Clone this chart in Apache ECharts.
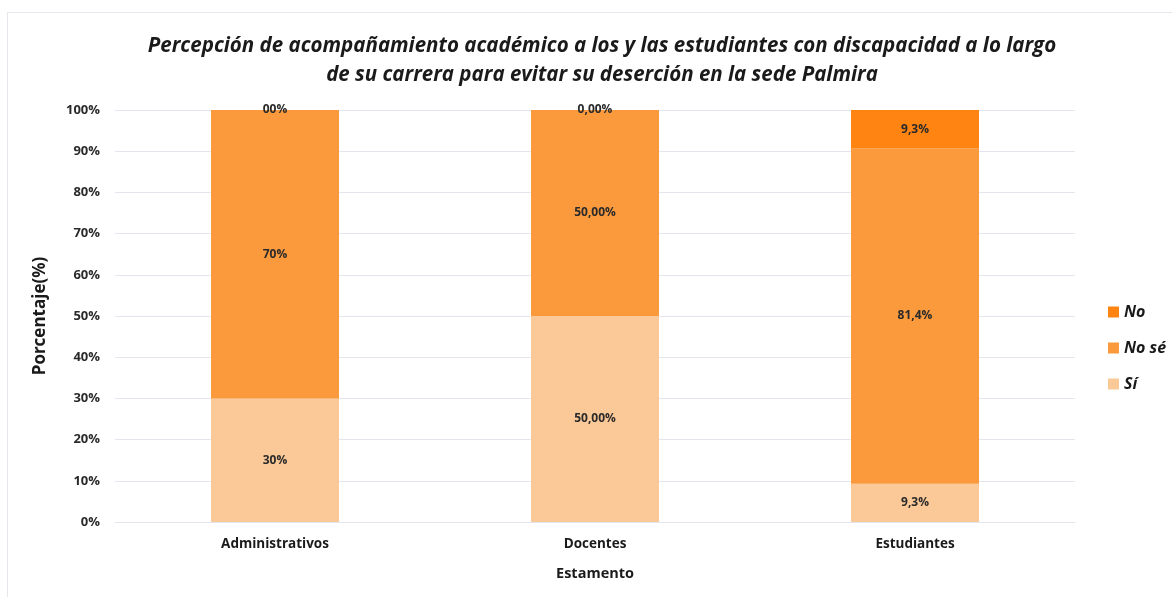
<!DOCTYPE html>
<html>
<head>
<meta charset="utf-8">
<script src="https://cdn.jsdelivr.net/npm/echarts@6/dist/echarts.min.js"></script>
<style>
html,body{margin:0;padding:0;background:#fff;}
#frame{position:absolute;left:7px;top:12px;width:1165px;height:585px;border-top:1px solid #e6e8ee;border-left:1px solid #e6e8ee;}
#chart{position:absolute;left:0;top:0;width:1172px;height:597px;}
</style>
</head>
<body>
<div id="frame"></div>
<div id="chart"></div>
<script>
const categories = ['Administrativos', 'Docentes', 'Estudiantes'];
const siValues = [30, 50, 9.3];
const noSeValues = [70, 50, 81.4];
const noValues = [0, 0, 9.3];
const siLabels = ['30%', '50,00%', '9,3%'];
const noSeLabels = ['70%', '50,00%', '81,4%'];
const noLabels = ['00%', '0,00%', '9,3%'];
const yTicks = ['0%','10%','20%','30%','40%','50%','60%','70%','80%','90%','100%'];

const FONT = 'Open Sans';
const chart = echarts.init(document.getElementById('chart'));

function mkSeries(name, values, labels, color) {
  return {
    name: name,
    type: 'bar',
    stack: 'total',
    barWidth: '40%',
    data: values,
    itemStyle: { color: color },
    label: {
      show: true,
      position: 'inside',
      formatter: p => labels[p.dataIndex],
      fontFamily: FONT,
      fontWeight: 'bold',
      fontSize: 12,
      color: '#2a2a2a'
    },
    emphasis: { disabled: true }
  };
}

chart.setOption({
  animation: false,
  title: {
    text: 'Percepción de acompañamiento académico a los y las estudiantes con discapacidad a lo largo\nde su carrera para evitar su deserción en la sede Palmira',
    left: 597,
    top: 27,
    textAlign: 'center',
    textStyle: {
      fontFamily: FONT,
      fontWeight: 'bold',
      fontStyle: 'italic',
      fontSize: 20.5,
      lineHeight: 29,
      color: '#1a1a1a'
    }
  },
  legend: {
    orient: 'vertical',
    left: 1103,
    top: 299,
    itemWidth: 11,
    itemHeight: 11,
    itemGap: 20,
    icon: 'rect',
    data: ['No', 'No sé', 'Sí'],
    textStyle: {
      fontFamily: FONT,
      fontWeight: 'bold',
      fontStyle: 'italic',
      fontSize: 16,
      color: '#1a1a1a'
    }
  },
  grid: { left: 115, right: 97, top: 110, bottom: 75 },
  xAxis: {
    type: 'category',
    data: categories,
    name: 'Estamento',
    nameLocation: 'middle',
    nameGap: 44,
    nameTextStyle: { fontFamily: FONT, fontWeight: 'bold', fontSize: 14.5, color: '#1a1a1a' },
    axisLine: { lineStyle: { color: '#e3e6ee', width: 1 } },
    axisTick: { show: false },
    axisLabel: { fontFamily: FONT, fontWeight: 'bold', fontSize: 13.5, color: '#1a1a1a', margin: 15 }
  },
  yAxis: {
    type: 'value',
    min: 0,
    max: 100,
    interval: 10,
    name: 'Porcentaje(%)',
    nameLocation: 'middle',
    nameGap: 66,
    nameTextStyle: { fontFamily: FONT, fontWeight: 'bold', fontSize: 17, color: '#1a1a1a' },
    axisLine: { show: false },
    axisTick: { show: false },
    splitLine: { lineStyle: { color: '#e3e6ee', width: 1 } },
    axisLabel: {
      fontFamily: FONT, fontWeight: 'bold', fontSize: 13, color: '#2a2a2a', margin: 15,
      formatter: (v) => yTicks[Math.round(v / 10)]
    }
  },
  series: [
    mkSeries('Sí', siValues, siLabels, '#fbc897'),
    mkSeries('No sé', noSeValues, noSeLabels, '#fb9a3d'),
    mkSeries('No', noValues, noLabels, '#ff8412')
  ]
});
</script>
</body>
</html>
